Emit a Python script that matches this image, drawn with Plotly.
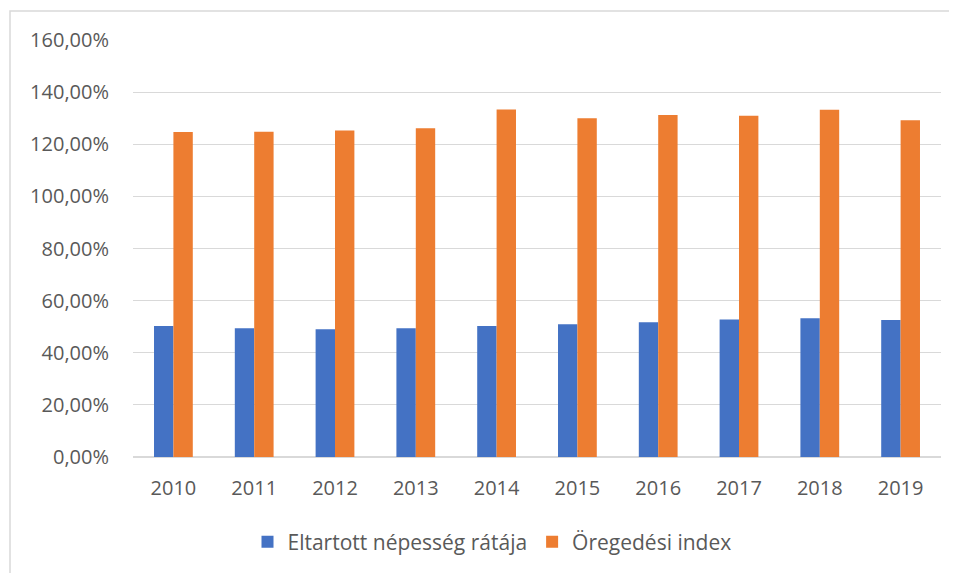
import plotly.graph_objects as go

years = ["2010", "2011", "2012", "2013", "2014", "2015", "2016", "2017", "2018", "2019"]
eltartott = [50.3, 49.4, 49.0, 49.4, 50.3, 50.9, 51.7, 52.8, 53.2, 52.6]
oregedesi = [124.7, 124.8, 125.3, 126.1, 133.3, 130.0, 131.2, 130.9, 133.2, 129.2]
series_names = ["Eltartott népesség rátája", "Öregedési index"]
ytick_vals = [0, 20, 40, 60, 80, 100, 120, 140, 160]
ytick_text = ["0,00%", "20,00%", "40,00%", "60,00%", "80,00%", "100,00%", "120,00%", "140,00%", "160,00%"]

font_family = "Open Sans, Liberation Sans, sans-serif"
text_color = "#595959"

fig = go.Figure()
fig.add_trace(go.Bar(x=years, y=eltartott, name=series_names[0], marker=dict(color="#4472C4", line=dict(width=0))))
fig.add_trace(go.Bar(x=years, y=oregedesi, name=series_names[1], marker=dict(color="#ED7D31", line=dict(width=0))))

# page body has an 8px margin; figure coordinates = image coordinates - 8
W, H = 949, 565
L, R, T, B = 125, 16, 32, 116
pw, ph = W - L - R, H - T - B

def px_x(x):
    return (x - L) / pw

def px_y(y):
    return (H - B - y) / ph

fig.update_layout(
    width=W, height=H,
    margin=dict(l=L, r=R, t=T, b=B),
    paper_bgcolor="white", plot_bgcolor="white",
    barmode="group", bargap=0.52, bargroupgap=0,
    font=dict(family=font_family, size=20, color=text_color),
    showlegend=True,
    legend=dict(orientation="h", xref="container", yref="container",
                x=484 / W, y=1 - 534 / H, xanchor="center", yanchor="middle",
                font=dict(size=21, color=text_color), itemwidth=30),
    xaxis=dict(showgrid=False, showline=True, linecolor="#d9d9d9", linewidth=1,
               ticks="outside", ticklen=13, tickcolor="rgba(0,0,0,0)",
               tickfont=dict(size=20, color=text_color)),
    yaxis=dict(range=[0, 160], tickvals=ytick_vals, ticktext=ytick_text,
               showgrid=True, gridcolor="#d9d9d9", gridwidth=1,
               zeroline=True, zerolinecolor="#d9d9d9", showline=False,
               ticks="outside", ticklen=19, tickcolor="rgba(0,0,0,0)",
               tickfont=dict(size=20, color=text_color)),
    shapes=[dict(type="rect", xref="paper", yref="paper",
                 x0=px_x(2), x1=px_x(W + 10), y0=px_y(H + 10), y1=px_y(3),
                 line=dict(color="#d9d9d9", width=1.5), layer="below")],
)

fig.write_html("out.html")
